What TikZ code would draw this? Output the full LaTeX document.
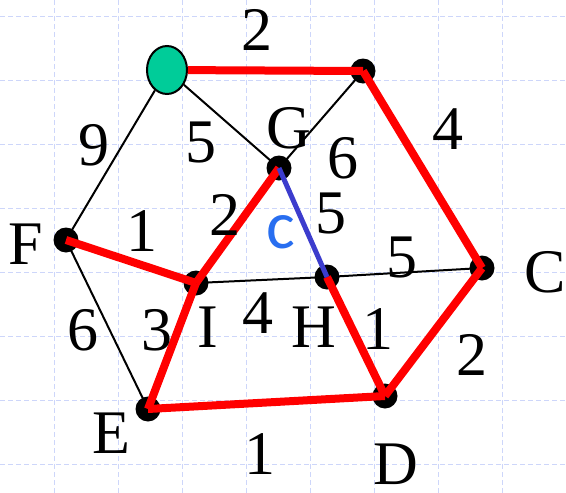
\documentclass[tikz,border=0pt]{standalone}
\usepackage{fontspec}
\setmainfont{Liberation Serif}
\newfontfamily\cfont{Carlito}
\usetikzlibrary{positioning, calc, backgrounds, shapes.geometric}
\definecolor{gridlav}{RGB}{205,214,250}
\definecolor{srcgreen}{RGB}{0,204,153}
\definecolor{swapblue}{RGB}{60,60,205}
\definecolor{clabel}{RGB}{40,110,240}
\tikzset{
    vtx/.style={
        circle, fill=black, draw=none,
        minimum size=25pt, inner sep=0pt
    },
    srcvtx/.style={
        ellipse, fill=srcgreen, draw=black, line width=2pt,
        minimum width=40pt, minimum height=48pt, inner sep=0pt
    },
    wlabel/.style={
        font=\fontsize{62}{62}\selectfont, inner sep=0pt
    },
    vname/.style={wlabel},
    thinedge/.style={draw=black, line width=2pt},
    treeedge/.style={draw=red, line width=8pt},
    swapedge/.style={draw=swapblue, line width=5pt},
    gridline/.style={
        draw=gridlav, line width=1pt,
        dash pattern=on 5pt off 3pt
    },
}

\begin{document}
\begin{tikzpicture}[x=1pt, y=-1pt]

\useasboundingbox (0,0) rectangle (566,493);

% ---- background grid ----
\begin{scope}[on background layer]
    \fill[white] (0,0) rectangle (566,493);
    \foreach \gx in {54,118,...,502}
        \draw[gridline] (\gx,0) -- (\gx,493);
    \foreach \gy in {16.7,80.7,...,464.7}
        \draw[gridline] (0,\gy) -- (566,\gy);
\end{scope}

% ---- vertices ----
\node[vtx] (tr) at (363,71)  {};
\node[vtx] (g)  at (279,168) {};
\node[vtx] (f)  at (66,240)  {};
\node[vtx] (i)  at (196,283) {};
\node[vtx] (h)  at (327,277) {};
\node[vtx] (c)  at (482,268) {};
\node[vtx] (e)  at (148,409) {};
\node[vtx] (d)  at (385,396) {};
\node[srcvtx] (s) at (167,70) {};

% ---- non-tree edges ----
\draw[thinedge] (s) -- (f.center);
\draw[thinedge] (s) -- (g.center);
\draw[thinedge] (tr.center) -- (g.center);
\draw[thinedge] (f.center) -- (e.center);
\draw[thinedge] (i.center) -- (h.center);
\draw[thinedge] (h.center) -- (c.center);

% ---- tree edges ----
\draw[treeedge] (s) -- (tr.center);
\draw[treeedge] (tr.center) -- (c.center);
\draw[treeedge] (g.center) -- (i.center);
\draw[treeedge] (f.center) -- (i.center);
\draw[treeedge] (i.center) -- (e.center);
\draw[treeedge] (e.center) -- (d.center);
\draw[treeedge] (h.center) -- (d.center);
\draw[treeedge] (c.center) -- (d.center);
\draw[swapedge] (g.center) -- (h.center);

% ---- weights ----
\node[wlabel] (w-s-tr) at (257,30)  {2};
\node[wlabel] (w-s-f)  at (94,145)  {9};
\node[wlabel] (w-s-g)  at (201,143) {5};
\node[wlabel] (w-tr-g) at (343,158) {6};
\node[wlabel] (w-tr-c) at (448,129) {4};
\node[wlabel] (w-g-h)  at (331,214) {5};
\node[wlabel] (w-g-i)  at (225,215) {2};
\node[wlabel] (w-f-i)  at (142,231) {1};
\node[wlabel] (w-f-e)  at (83,330)  {6};
\node[wlabel] (w-i-e)  at (157,330) {3};
\node[wlabel] (w-i-h)  at (258,313) {4};
\node[wlabel] (w-h-c)  at (402,258) {5};
\node[wlabel] (w-h-d)  at (378,329) {1};
\node[wlabel] (w-c-d)  at (472,355) {2};
\node[wlabel] (w-e-d)  at (260,454) {1};
\node[font=\cfont\fontsize{68}{68}\selectfont, text=clabel, inner sep=0pt]
    (swap-c) at (281,232) {c};

% ---- vertex names ----
\node[vname] (n-g) at (289,128) {G};
\node[vname] (n-f) at (26,244)  {F};
\node[vname] (n-i) at (208,327) {I};
\node[vname] (n-h) at (314,327) {H};
\node[vname] (n-c) at (545,272) {C};
\node[vname] (n-e) at (111,433) {E};
\node[vname] (n-d) at (396,464) {D};

\end{tikzpicture}
\end{document}
